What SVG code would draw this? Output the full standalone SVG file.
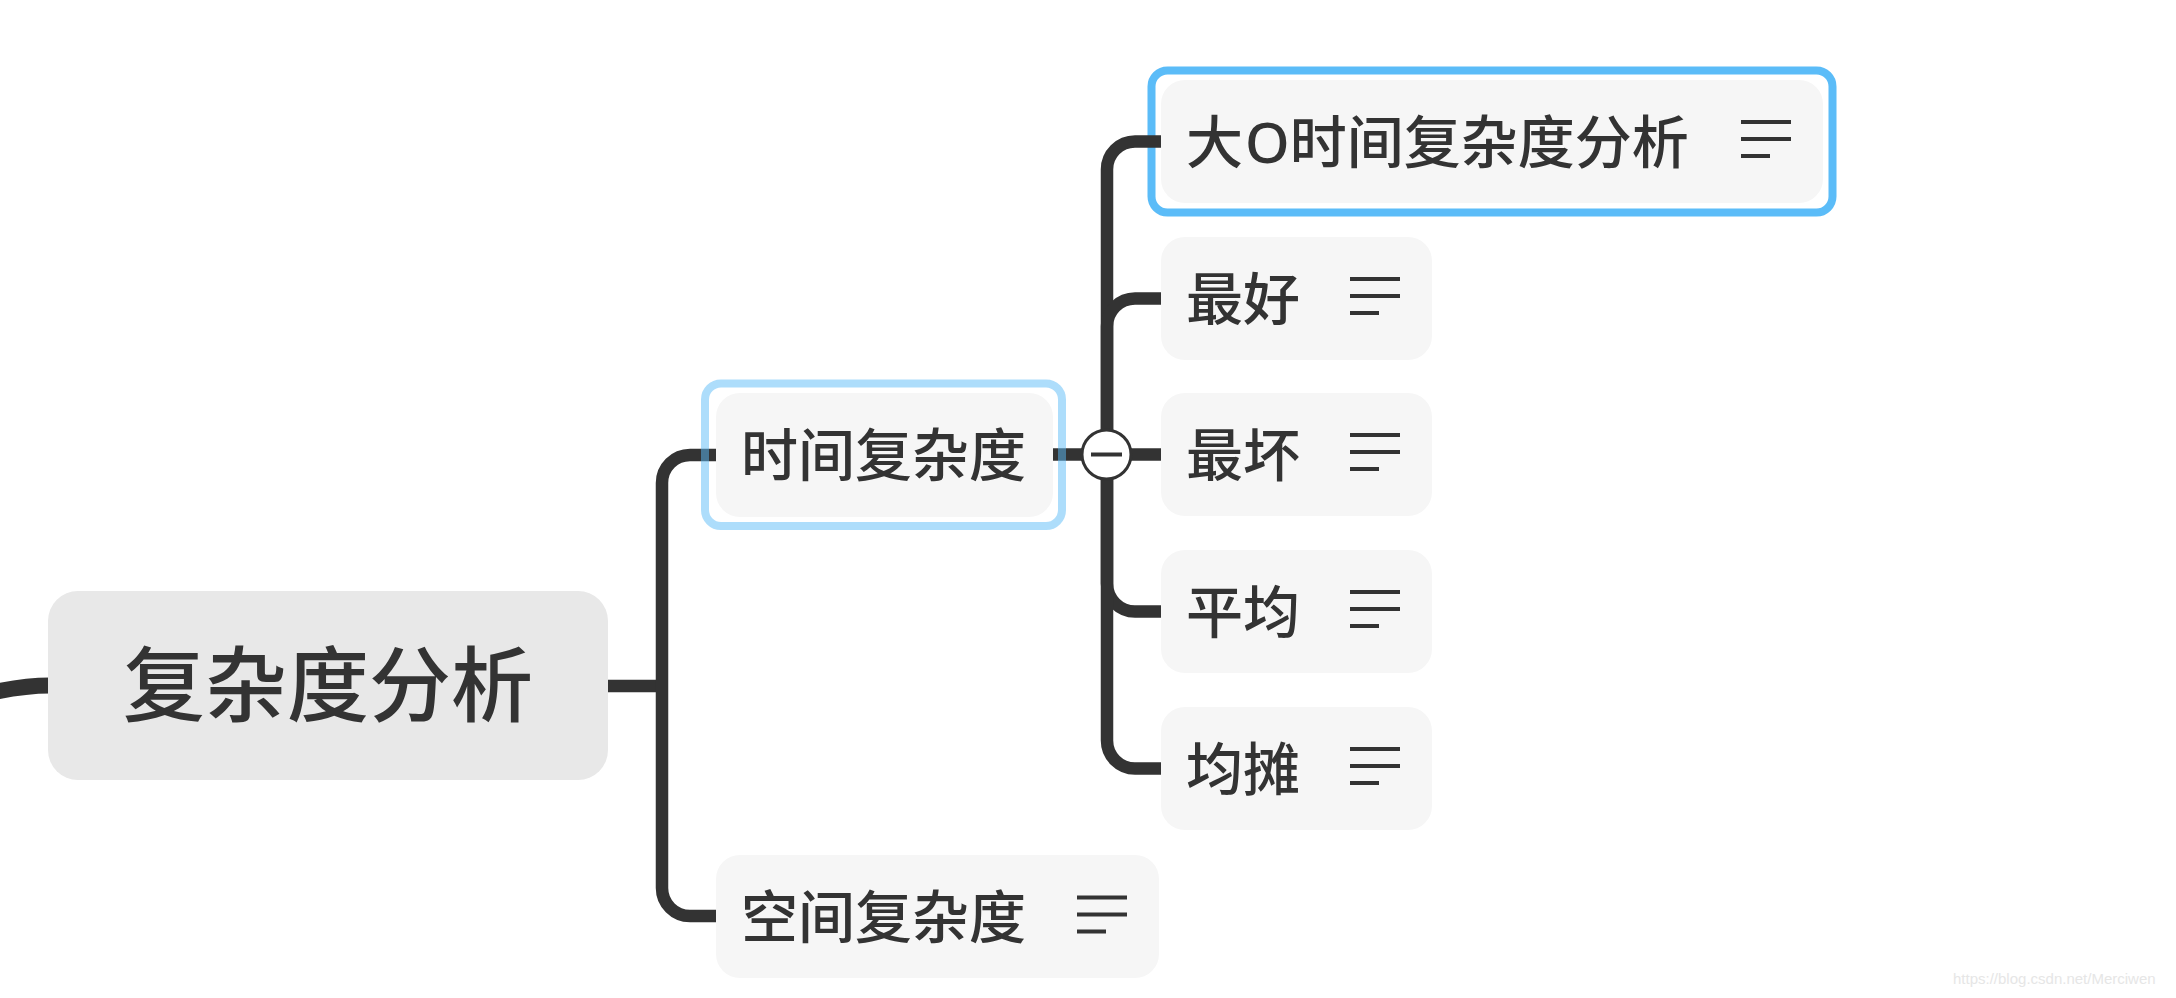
<svg xmlns="http://www.w3.org/2000/svg" width="2176" height="998" viewBox="0 0 2176 998">
<style>
.bg{fill:#ffffff}
.node{fill:#f6f6f6}
.root{fill:#e8e8e8}
.lbl{font-family:"Noto Sans CJK SC","Noto Sans",sans-serif;fill:#333333;font-size:57px;font-weight:500}
.rlbl{font-family:"Noto Sans CJK SC","Noto Sans",sans-serif;fill:#333333;font-size:82px;font-weight:500}
.lat{font-family:"Noto Sans",sans-serif}
.conn{fill:none;stroke:#333333;stroke-width:12.5}
.icon{fill:none;stroke:#333333;stroke-width:4}
.sel{fill:none;stroke:#5bbcf8;stroke-width:8}
.hov{fill:none;stroke:#5bbcf8;stroke-opacity:0.5;stroke-width:8}
.wm{font-family:"Liberation Sans",Arial,sans-serif;font-size:15px;fill:#e6e6e6}
</style>
<rect class="bg" x="0" y="0" width="2176" height="998"/>
<rect id="selection" class="sel" x="1151.5" y="70.5" width="681" height="142" rx="16"/>
<g id="connectors">
<path class="conn" style="stroke-width:16" d="M -10 693 C 12 688 28 685.5 50 685.5"/>
<path class="conn" d="M 606 686 H 668"/>
<path class="conn" d="M 662 686 V 483 A 28 28 0 0 1 690 455 H 717"/>
<path class="conn" d="M 662 686 V 888 A 28 28 0 0 0 690 916 H 717"/>
<path class="conn" d="M 1052 454.5 H 1162"/>
<path class="conn" d="M 1107 454.5 V 169.5 A 28 28 0 0 1 1135 141.5 H 1162"/>
<path class="conn" d="M 1107 454.5 V 326.5 A 28 28 0 0 1 1135 298.5 H 1162"/>
<path class="conn" d="M 1107 454.5 V 583.5 A 28 28 0 0 0 1135 611.5 H 1162"/>
<path class="conn" d="M 1107 454.5 V 740.5 A 28 28 0 0 0 1135 768.5 H 1162"/>
<circle cx="1106.5" cy="454.5" r="24.5" fill="#ffffff" stroke="#333333" stroke-width="3"/>
<path d="M 1091 454.5 H 1122" stroke="#333333" stroke-width="4"/>
</g>
<g id="root">
<rect class="root" x="48" y="591" width="560" height="189" rx="30"/>
<text class="rlbl" x="328" y="715" text-anchor="middle">复杂度分析</text>
</g>
<g id="time">
<rect class="node" x="716" y="393" width="337" height="124" rx="24"/>
<text class="lbl" x="741" y="476">时间复杂度</text>
</g>
<g id="space">
<rect class="node" x="716" y="855" width="443" height="123" rx="24"/>
<text class="lbl" x="741" y="937.5">空间复杂度</text>
<path class="icon" d="M 1077 897.5 H 1127 M 1077 914.5 H 1127 M 1077 931.5 H 1106"/>
</g>
<g id="bigo">
<rect class="node" x="1161" y="80" width="662" height="123" rx="24"/>
<text class="lbl" x="1186" y="162.5">大<tspan class="lat" dx="2">O</tspan>时间复杂度分析</text>
<path class="icon" d="M 1741 122 H 1791 M 1741 139 H 1791 M 1741 156 H 1770"/>
</g>
<g id="best">
<rect class="node" x="1161" y="237" width="271" height="123" rx="24"/>
<text class="lbl" x="1186" y="319.5">最好</text>
<path class="icon" d="M 1350 279 H 1400 M 1350 296 H 1400 M 1350 313 H 1379"/>
</g>
<g id="worst">
<rect class="node" x="1161" y="393" width="271" height="123" rx="24"/>
<text class="lbl" x="1186" y="475.5">最坏</text>
<path class="icon" d="M 1350 435 H 1400 M 1350 452 H 1400 M 1350 469 H 1379"/>
</g>
<g id="average">
<rect class="node" x="1161" y="550" width="271" height="123" rx="24"/>
<text class="lbl" x="1186" y="632.5">平均</text>
<path class="icon" d="M 1350 592 H 1400 M 1350 609 H 1400 M 1350 626 H 1379"/>
</g>
<g id="amortized">
<rect class="node" x="1161" y="707" width="271" height="123" rx="24"/>
<text class="lbl" x="1186" y="789.5">均摊</text>
<path class="icon" d="M 1350 749 H 1400 M 1350 766 H 1400 M 1350 783 H 1379"/>
</g>
<rect id="hover" class="hov" x="705" y="383.5" width="357" height="142.5" rx="16"/>
<text class="wm" x="1953" y="984">https://blog.csdn.net/Merciwen</text>
</svg>
